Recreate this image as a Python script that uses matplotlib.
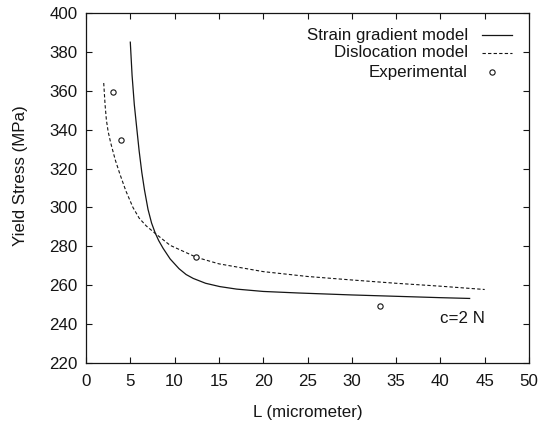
import matplotlib
matplotlib.use("Agg")
import matplotlib.pyplot as plt

plt.rcParams['font.family'] = ['Liberation Sans', 'DejaVu Sans']

# Strain gradient model (solid)
sg_x = [5.0, 5.2, 5.45, 5.7, 6.0, 6.3, 6.6, 7.0, 7.4, 7.8, 8.2, 8.7, 9.5, 10.5, 11.3, 12.1, 13.5, 15.1, 17.0, 20.0, 24.0, 30.0, 35.0, 40.0, 43.3]
sg_y = [385, 368, 353, 342, 329, 318, 309, 299, 292, 287, 283, 279, 273.5, 268.5, 265.5, 263.5, 261, 259.3, 258, 256.8, 256, 255, 254.3, 253.6, 253.2]

# Dislocation model (dashed)
dm_x = [2.0, 2.15, 2.3, 2.5, 2.8, 3.3, 3.8, 4.5, 5.3, 6.0, 6.8, 7.8, 9.5, 12.5, 15.0, 20.0, 25.0, 30.0, 35.0, 40.0, 45.0]
dm_y = [364, 353, 345, 339, 333, 324.5, 317.5, 308.5, 300, 294.5, 290.5, 286.7, 280.5, 274.3, 271, 267, 264.5, 262.7, 261, 259.5, 257.8]

# Experimental points
ex_x = [3.0, 3.9, 12.4, 33.2]
ex_y = [359.5, 334.7, 274.3, 249.3]

x_ticks = [0, 5, 10, 15, 20, 25, 30, 35, 40, 45, 50]
y_ticks = [220, 240, 260, 280, 300, 320, 340, 360, 380, 400]

labels = ["Strain gradient model", "Dislocation model", "Experimental"]

fig = plt.figure(figsize=(5.39, 4.32), dpi=100)
ax = fig.add_axes([86/539, 1-363/432, 443/539, 350/432])

ink = '#151515'
fs = 12.2

ax.plot(sg_x, sg_y, color=ink, lw=0.9, ls='-')
ax.plot(dm_x, dm_y, color=ink, lw=0.8, ls=(0, (3, 2)))
ax.plot(ex_x, ex_y, ls='none', marker='o', ms=3.8, mfc='white', mec=ink, mew=0.8)

ax.set_xlim(0, 50)
ax.set_ylim(220, 400)
ax.set_xticks(x_ticks)
ax.set_yticks(y_ticks)
ax.tick_params(direction='in', top=True, right=True, length=4, width=0.8,
               labelsize=fs, colors=ink)
ax.tick_params(axis='x', pad=8)
ax.tick_params(axis='y', pad=6)
for s in ax.spines.values():
    s.set_linewidth(0.9)
    s.set_color(ink)

# legend (gnuplot style: right-aligned text, sample on the right)
rows = [0.937, 0.886, 0.831]
tx = 0.862
for lab, yy in zip(labels, rows):
    ax.text(tx, yy, lab, transform=ax.transAxes, ha='right', va='center',
            fontsize=fs, color=ink)
ax.plot([0.894, 0.962], [rows[0], rows[0]], transform=ax.transAxes, color=ink, lw=0.9)
ax.plot([0.894, 0.962], [rows[1], rows[1]], transform=ax.transAxes, color=ink, lw=0.8, ls=(0, (3, 2)))
ax.plot([0.916], [rows[2]], transform=ax.transAxes, ls='none', marker='o', ms=3.8,
        mfc='white', mec=ink, mew=0.8)

ax.text(42.5, 243.1, "c=2 N", ha='center', va='center', fontsize=fs, color=ink)

fig.text(307.5/539, 1-412/432, "L (micrometer)", ha='center', va='center', fontsize=fs, color=ink)
fig.text(21/539, 1-176/432, "Yield Stress (MPa)", ha='center', va='center', rotation=90,
         fontsize=fs, color=ink)

fig.savefig("out.png", dpi=100)
